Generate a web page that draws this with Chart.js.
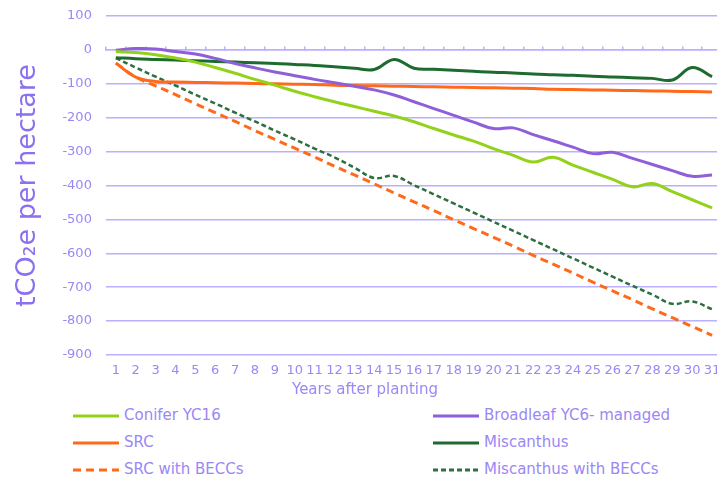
<!DOCTYPE html>
<html>
<head>
<meta charset="utf-8">
<script src="https://cdn.jsdelivr.net/npm/chart.js@4.4.1/dist/chart.umd.min.js"></script>
<style>
	html, body { margin: 0; padding: 0; background: #fff; width: 717px; height: 478px; overflow: hidden; }
	#wrap { position: absolute; left: 0; top: 0; width: 730px; height: 402px; }
	#legend { position: absolute; left: 0; top: 402px; width: 717px; font-family: "DejaVu Sans", sans-serif; font-size: 15px; color: #9a88f4; }
	#legend .item { position: absolute; height: 27px; line-height: 27px; white-space: nowrap; }
	#legend canvas { vertical-align: middle; margin-right: 5px; }
</style>
</head>
<body>
<div id="wrap"><canvas id="chartCarbono"></canvas></div>
<div id="legend"></div>
<script>
var anos = ['1','2','3','4','5','6','7','8','9','10','11','12','13','14','15','16',
	'17','18','19','20','21','22','23','24','25','26','27','28','29','30','31'];

var conifer = [-5, -8, -14, -24, -36, -52, -69, -87, -104, -122, -138, -153, -167, -181, -195, -212,
	-232, -251, -269, -291, -311, -331, -317, -340, -361, -382, -404, -394, -418, -442, -466];

var broadleaf = [-1, 4, 3, -5, -12, -25, -40, -53, -65, -76, -87, -97, -107, -118, -133, -153,
	-173, -193, -213, -232, -230, -250, -268, -287, -306, -302, -320, -338, -356, -373, -369];

var src = [-39, -80, -93, -95, -96, -97, -98, -99, -100, -101, -102, -104, -105, -106, -107, -108,
	-109, -110, -111, -112, -113, -114, -116, -117, -118, -119, -120, -121, -122, -123, -124];

var miscanthus = [-23, -26, -28, -30, -32, -34, -36, -38, -40, -43, -46, -50, -54, -58, -28, -54,
	-57, -60, -63, -66, -68, -71, -73, -75, -78, -80, -82, -84, -89, -52, -79];

var srcBeccs = [-39, -80, -106, -132, -159, -185, -211, -238, -264, -290, -316, -343, -369, -395, -422, -448,
	-474, -501, -527, -553, -579, -606, -632, -658, -685, -711, -737, -764, -790, -816, -842];

var miscanthusBeccs = [-24, -52, -79, -105, -132, -158, -185, -211, -238, -264, -291, -317, -347, -378, -372, -399,
	-426, -453, -480, -507, -534, -561, -588, -615, -642, -669, -696, -722, -749, -742, -765];

var corTexto = '#9a88f4';
var corGrade = '#bbb0ff';
var fonte = '"DejaVu Sans", sans-serif';

// legenda em html, duas colunas
var legendaHtml = {
	id: 'legendaHtml',
	afterUpdate: function(chart) {
		var caixa = document.getElementById('legend');
		caixa.innerHTML = '';
		chart.data.datasets.forEach(function(ds, i) {
			var item = document.createElement('div');
			item.className = 'item';
			item.style.left = (i % 2 === 0 ? 73 : 433) + 'px';
			item.style.top = (Math.floor(i / 2) * 27) + 'px';
			var amostra = document.createElement('canvas');
			amostra.width = 46;
			amostra.height = 6;
			var c = amostra.getContext('2d');
			c.strokeStyle = ds.borderColor;
			c.lineWidth = 3;
			c.setLineDash(ds.borderDash || []);
			c.beginPath();
			c.moveTo(0, 3);
			c.lineTo(46, 3);
			c.stroke();
			item.appendChild(amostra);
			item.appendChild(document.createTextNode(ds.label));
			caixa.appendChild(item);
		});
	}
};

var ctx = document.getElementById('chartCarbono');
var myChart = new Chart(ctx, {
	type: 'line',
	data: {
		labels: anos,
		datasets: [
			{ label: 'Conifer YC16', data: conifer, borderColor: '#93d21a', borderWidth: 3 },
			{ label: 'Broadleaf YC6- managed', data: broadleaf, borderColor: '#8e5fd9', borderWidth: 3 },
			{ label: 'SRC', data: src, borderColor: '#ff6a1a', borderWidth: 3 },
			{ label: 'Miscanthus', data: miscanthus, borderColor: '#1d6b2f', borderWidth: 3 },
			{ label: 'SRC with BECCs', data: srcBeccs, borderColor: '#ff6a1a', borderWidth: 3, borderDash: [8, 5] },
			{ label: 'Miscanthus with BECCs', data: miscanthusBeccs, borderColor: '#2f6e40', borderWidth: 2.5, borderDash: [5, 3] }
		]
	},
	options: {
		responsive: true,
		maintainAspectRatio: false,
		animation: false,
		elements: {
			point: { radius: 0 },
			line: { tension: 0.4, fill: false }
		},
		layout: { padding: { top: 2, right: 8, left: 8, bottom: 0 } },
		plugins: {
			legend: { display: false },
			tooltip: { enabled: false },
			title: {
				display: true,
				position: 'bottom',
				text: 'Years after planting',
				color: corTexto,
				font: { family: fonte, size: 15, weight: 'normal' },
				padding: { top: 2, bottom: 3 }
			}
		},
		scales: {
			x: {
				type: 'category',
				offset: true,
				grid: { display: false, drawTicks: false },
				border: { display: false },
				ticks: {
					color: corTexto,
					font: { family: fonte, size: 13 },
					maxRotation: 0,
					autoSkip: false,
					padding: 8
				},
				afterFit: function(scale) {
					scale.height = 24;
				}
			},
			xZero: {
				type: 'category',
				axis: 'x',
				labels: anos,
				offset: true,
				position: { y: 0 },
				grid: { offset: true, drawOnChartArea: false, drawTicks: true, tickLength: -4, color: corGrade, lineWidth: 1.5 },
				border: { display: true, color: corGrade, width: 1.5 },
				ticks: { display: false },
				afterFit: function(scale) {
					scale.height = 0;
				}
			},
			y: {
				min: -900,
				max: 100,
				ticks: {
					stepSize: 100,
					color: corTexto,
					font: { family: fonte, size: 13 },
					padding: 14,
					callback: function(valor) {
						return String(valor);
					}
				},
				grid: { color: corGrade, lineWidth: 1.5, drawTicks: false },
				border: { display: false },
				title: {
					display: true,
					text: 'tCO\u2082e per hectare',
					color: '#8c70f0',
					font: { family: fonte, size: 27, weight: 'normal' },
					padding: { top: 4, bottom: 4 }
				},
				afterFit: function(scale) {
					scale.paddingTop = 16;
				}
			}
		}
	},
	plugins: [legendaHtml]
});
</script>
</body>
</html>
